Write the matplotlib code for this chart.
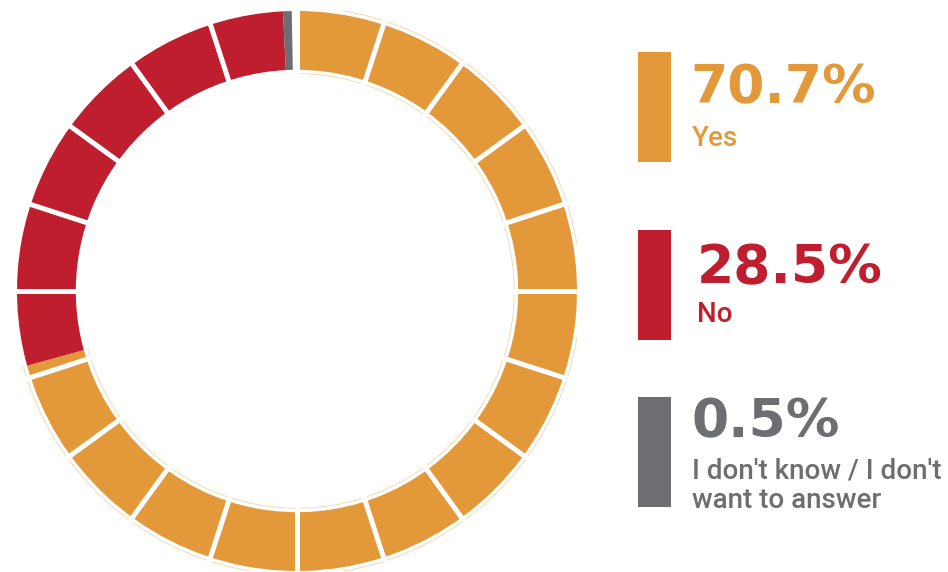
import numpy as np
import matplotlib
matplotlib.use("Agg")
import matplotlib.pyplot as plt
from matplotlib.patches import Rectangle, Arc

# data
labels = [["Yes"], ["No"], ["I don't know / I don't", "want to answer"]]
values = [70.7, 28.5, 0.5]
pct_text = ["70.7%", "28.5%", "0.5%"]
colors = ["#E3993A", "#BE1E2D", "#6D6E71"]
n_ticks = 20

W, H = 948, 572
fig = plt.figure(figsize=(W / 100, H / 100), dpi=100)

# ring, centre (297, 291) px from top, outer radius 280 px
cx, cy, R = 297, 291, 280
ax = fig.add_axes([(cx - R) / W, (H - cy - R) / H, 2 * R / W, 2 * R / H])

ring_w = 0.21
fracs = [v / 100 for v in values]
ax.pie(fracs, colors=colors, startangle=90, counterclock=False, radius=1,
       normalize=False, wedgeprops=dict(width=ring_w, edgecolor="none"))

# faint outline round the orange part
yes_deg = fracs[0] * 360
for r in (1.014, 1 - ring_w - 0.014):
    ax.add_patch(Arc((0, 0), 2 * r, 2 * r, theta1=90 - yes_deg, theta2=90,
                     color="#F4DAB6", lw=0.7, zorder=1))

# white segment dividers
for k in range(n_ticks):
    th = np.deg2rad(90 - 360 / n_ticks * k)
    r0, r1 = 1 - ring_w - 0.03, 1.03
    ax.plot([r0 * np.cos(th), r1 * np.cos(th)], [r0 * np.sin(th), r1 * np.sin(th)],
            color="white", lw=3.6, solid_capstyle="butt", zorder=3)

ax.set_xlim(-1, 1)
ax.set_ylim(-1, 1)
ax.set_aspect("equal")
ax.axis("off")

# legend on the right, in pixel coordinates
lg = fig.add_axes([0, 0, 1, 1])
lg.set_xlim(0, W)
lg.set_ylim(H, 0)
lg.axis("off")

bar_top = [52, 230, 397]
bar_h = 110
pct_x = [690, 697, 692]
pct_base = [103, 283, 437]
lab_base = [146, 322, 478]
line_gap = 30

for i in range(3):
    lg.add_patch(Rectangle((638, bar_top[i]), 33, bar_h, color=colors[i], lw=0))
    lg.text(pct_x[i], pct_base[i], pct_text[i], color=colors[i], fontsize=38.5,
            fontweight="bold", family="DejaVu Sans", va="baseline", ha="left")
    for j, line in enumerate(labels[i]):
        lg.text(692 if i != 1 else 697, lab_base[i] + j * line_gap, line,
                color=colors[i], fontsize=20, fontweight="medium",
                family="Roboto", va="baseline", ha="left")

fig.savefig("out.png", dpi=100)
